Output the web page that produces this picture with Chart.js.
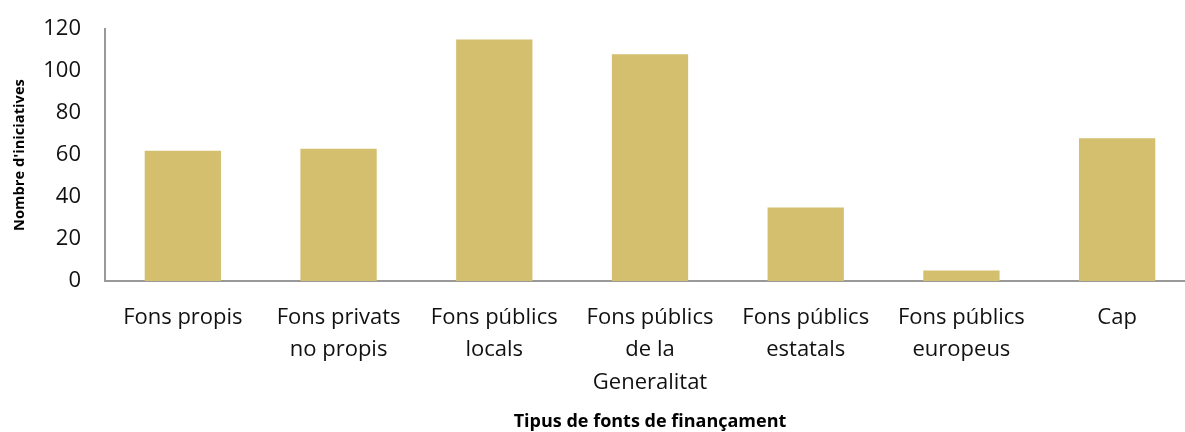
<!DOCTYPE html>
<html>
<head>
<meta charset="utf-8">
<script src="https://cdn.jsdelivr.net/npm/chart.js@4"></script>
<style>
html,body{margin:0;padding:0;background:#fff;overflow:hidden;}
#wrap{width:1196px;height:432px;position:relative;}
</style>
</head>
<body>
<div id="wrap"><canvas id="c" width="1196" height="432"></canvas></div>
<script>
const categories = [
  "Fons propis",
  ["Fons privats", "no propis"],
  ["Fons públics", "locals"],
  ["Fons públics", "de la", "Generalitat"],
  ["Fons públics", "estatals"],
  ["Fons públics", "europeus"],
  "Cap"
];
const values = [62, 63, 115, 108, 35, 5, 68];
const yTitle = "Nombre d'iniciatives";
const xTitle = "Tipus de fonts de finançament";

new Chart(document.getElementById('c'), {
  type: 'bar',
  data: {
    labels: categories,
    datasets: [{
      data: values,
      backgroundColor: '#D4BF6E',
      borderWidth: 0,
      categoryPercentage: 1,
      barPercentage: 0.49
    }]
  },
  options: {
    responsive: false,
    animation: false,
    layout: { padding: { top: 29, right: 1, left: 0, bottom: 0 } },
    plugins: { legend: { display: false }, tooltip: { enabled: false } },
    scales: {
      x: {
        afterFit: (s) => { s.height = 151; },
        grid: { display: false, drawTicks: false },
        border: { display: true, color: '#999999', width: 2 },
        ticks: {
          color: '#111',
          font: { family: 'Open Sans', size: 22, lineHeight: 1.48 },
          padding: 20,
          maxRotation: 0,
          autoSkip: false
        },
        title: {
          display: true,
          text: xTitle,
          color: '#000',
          font: { family: 'Open Sans', size: 18, weight: 'bold', lineHeight: 1.1 },
          padding: { top: 15, bottom: 0 }
        }
      },
      y: {
        afterFit: (s) => { s.width = 105; s.paddingTop = 0; s.paddingBottom = 0; },
        min: 0,
        max: 120,
        grid: { display: false, drawTicks: false },
        border: { display: true, color: '#999999', width: 2 },
        ticks: {
          stepSize: 20,
          color: '#111',
          font: { family: 'Open Sans', size: 22 },
          padding: 24
        },
        title: {
          display: true,
          text: yTitle,
          color: '#000',
          font: { family: 'Open Sans', size: 14.7, weight: 'bold' },
          padding: { top: 11, bottom: 12 }
        }
      }
    }
  }
});
</script>
</body>
</html>
